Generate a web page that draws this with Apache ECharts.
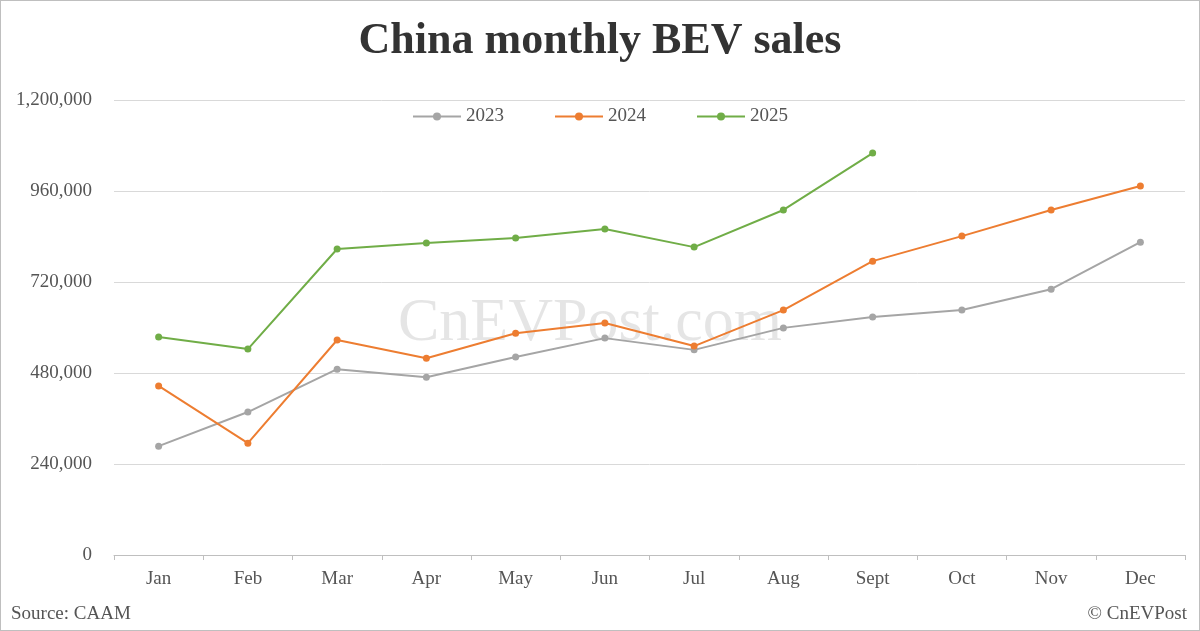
<!DOCTYPE html>
<html><head><meta charset="utf-8">
<script src="https://cdn.jsdelivr.net/npm/echarts@6/dist/echarts.min.js"></script>
<style>html,body{margin:0;padding:0;background:#fff}#c{width:1200px;height:631px;box-sizing:border-box;border:1px solid #bfbfbf}</style>
</head><body><div id="c"></div>
<script>
const months = ['Jan','Feb','Mar','Apr','May','Jun','Jul','Aug','Sept','Oct','Nov','Dec'];
const s2023 = [287000,377000,490000,469000,522000,572000,541000,599000,628000,646000,701000,825000];
const s2024 = [446000,295000,567000,519000,585000,612000,551000,646000,775000,841000,910000,973000];
const s2025 = [575000,543000,807000,823000,836000,860000,812000,910000,1060000];
const font = 'Liberation Serif, Times New Roman, serif';
const chart = echarts.init(document.getElementById('c'), null, {width:1198,height:629});
const mk = (name, data, color) => ({name, type:'line', data, symbol:'circle', symbolSize:7,
  itemStyle:{color}, lineStyle:{color, width:2}});
chart.setOption({
  animation:false,
  textStyle:{fontFamily:font},
  title:{text:'China monthly BEV sales', left:'center', top:14,
    textStyle:{fontFamily:font, fontWeight:'bold', fontSize:44, color:'#333'}},
  legend:{top:101, left:'center', itemGap:50, itemWidth:48, itemHeight:10,
    textStyle:{fontFamily:font, fontSize:19, color:'#555'}, data:['2023','2024','2025']},
  grid:{left:113, right:14, top:99, bottom:75},
  xAxis:{type:'category', data:months, boundaryGap:true,
    axisLine:{lineStyle:{color:'#bfbfbf'}}, axisTick:{show:true, lineStyle:{color:'#bfbfbf'}},
    axisLabel:{fontFamily:font, fontSize:19, color:'#555', margin:15}},
  yAxis:{type:'value', min:0, max:1200000, interval:240000,
    axisLabel:{fontFamily:font, fontSize:19, color:'#555', margin:22,
      formatter:v=>v.toLocaleString('en-US')},
    splitLine:{lineStyle:{color:'#d9d9d9'}}},
  graphic:[
    {type:'text', left:397, top:292, style:{text:'CnEVPost.com', font:'62px '+font, fill:'rgba(190,190,190,0.4)'}},
    {type:'text', left:10, top:604, style:{text:'Source: CAAM', font:'19px '+font, fill:'#555'}},
    {type:'text', right:12, top:604, style:{text:'© CnEVPost', font:'19px '+font, fill:'#555'}}
  ],
  series:[mk('2023',s2023,'#a5a5a5'), mk('2024',s2024,'#ed7d31'), mk('2025',s2025,'#70ad47')]
});
</script></body></html>
